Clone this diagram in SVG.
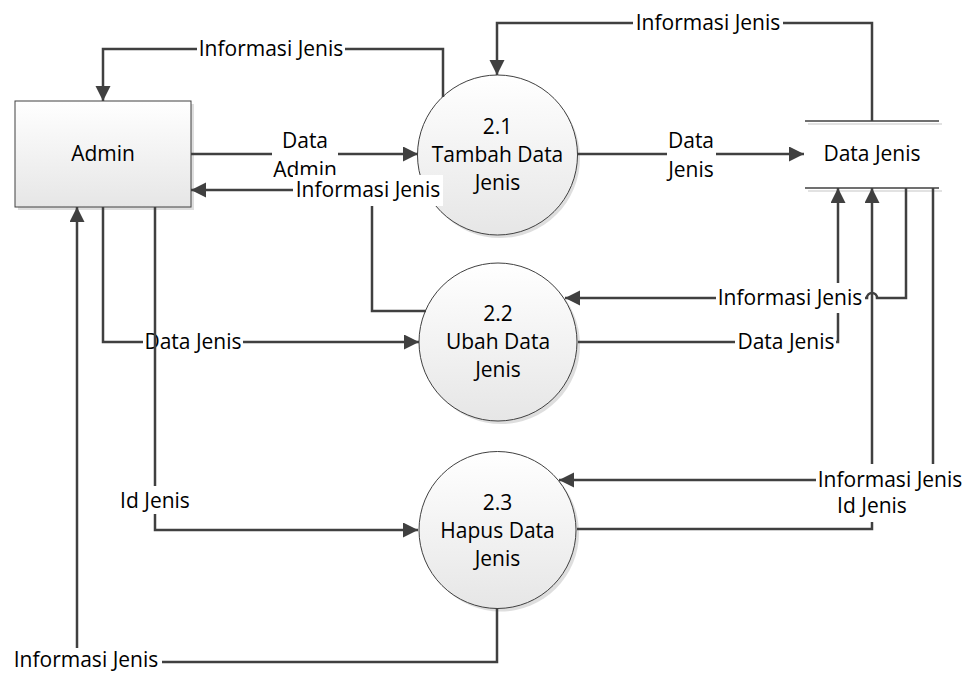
<svg xmlns="http://www.w3.org/2000/svg" width="969" height="673" viewBox="0 0 969 673">
<defs>
<linearGradient id="fillg" x1="0" y1="0" x2="0" y2="1">
<stop offset="0" stop-color="#ffffff"/>
<stop offset="1" stop-color="#e6e6e6"/>
</linearGradient>
<marker id="ah" markerUnits="userSpaceOnUse" markerWidth="16" markerHeight="16" refX="15" refY="7.5" orient="auto">
<path d="M0,0 L15,7.5 L0,15 z" fill="#404040"/>
</marker>
<style>
.t{font-family:"Open Sans","Liberation Sans",sans-serif;font-size:21px;fill:#000;text-anchor:middle}
.c{fill:none;stroke:#404040;stroke-width:2.5;marker-end:url(#ah)}
.bg{fill:#fff}
.shape{fill:url(#fillg);stroke:#404040;stroke-width:1}
.sh{fill:#c8c8c8;opacity:0.6}
.st{stroke:#404040;stroke-width:1.5}
.sts{stroke:#d8d8d8;stroke-width:1.5}
</style>
</defs>
<rect width="969" height="673" fill="#fff"/>

<g id="admin">
<rect class="sh" x="18" y="104" width="176" height="106"/>
<rect class="shape" x="15" y="101" width="176" height="106"/>
<text class="t" x="103" y="161">Admin</text>
</g>

<g id="p21">
<circle class="sh" cx="500" cy="158" r="80"/>
<circle class="shape" cx="497.5" cy="155" r="80"/>
<text class="t" x="497.5" y="134">2.1</text>
<text class="t" x="497.5" y="162">Tambah Data</text>
<text class="t" x="497.5" y="190">Jenis</text>
</g>

<g id="p22">
<circle class="sh" cx="501" cy="345" r="79"/>
<circle class="shape" cx="498" cy="342" r="79"/>
<text class="t" x="498" y="321">2.2</text>
<text class="t" x="498" y="349">Ubah Data</text>
<text class="t" x="498" y="377">Jenis</text>
</g>

<g id="p23">
<circle class="sh" cx="500.5" cy="533" r="78.5"/>
<circle class="shape" cx="497.5" cy="530" r="78.5"/>
<text class="t" x="497.5" y="510">2.3</text>
<text class="t" x="497.5" y="538">Hapus Data</text>
<text class="t" x="497.5" y="566">Jenis</text>
</g>

<g id="store">
<line class="sts" x1="808" y1="124" x2="942" y2="124"/>
<line class="sts" x1="808" y1="191" x2="942" y2="191"/>
<line class="st" x1="805" y1="121" x2="939" y2="121"/>
<line class="st" x1="805" y1="188" x2="939" y2="188"/>
<text class="t" x="872" y="161">Data Jenis</text>
</g>

<g id="connectors">
<g id="c1">
<path class="c" d="M443,97 V49 H103 V101"/>
<rect class="bg" x="197" y="35" width="148" height="28"/>
<text class="t" x="271" y="56">Informasi Jenis</text>
</g>
<g id="c2">
<path class="c" d="M191,154 H418"/>
<rect class="bg" x="272" y="128" width="66" height="46"/>
<text class="t" x="305" y="148">Data</text>
<text class="t" x="305" y="177">Admin</text>
</g>
<g id="c3">
<path class="c" d="M426,311 H372 V190 H191"/>
<rect class="bg" x="293" y="175" width="150" height="31"/>
<text class="t" x="368" y="197">Informasi Jenis</text>
</g>
<g id="c4">
<path class="c" d="M103,207 V342 H419"/>
<rect class="bg" x="143" y="328" width="100" height="28"/>
<text class="t" x="193" y="349">Data Jenis</text>
</g>
<g id="c5">
<path class="c" d="M155,207 V530 H418"/>
<rect class="bg" x="117" y="486" width="77" height="28"/>
<text class="t" x="155" y="508">Id Jenis</text>
</g>
<g id="c6">
<path class="c" d="M497,608 V662 H77 V207"/>
<rect class="bg" x="11" y="648" width="151" height="24"/>
<text class="t" x="86" y="667">Informasi Jenis</text>
</g>
<g id="c7">
<path class="c" d="M872,121 V23 H497 V75"/>
<rect class="bg" x="633" y="9" width="150" height="28"/>
<text class="t" x="708" y="30">Informasi Jenis</text>
</g>
<g id="c8">
<path class="c" d="M577,154 H804"/>
<rect class="bg" x="667" y="128" width="49" height="52"/>
<text class="t" x="691" y="148">Data</text>
<text class="t" x="691" y="177">Jenis</text>
</g>
<g id="c10">
<path class="c" d="M578,342 H838 V188"/>
<rect class="bg" x="735" y="328" width="101" height="28"/>
<text class="t" x="786" y="349">Data Jenis</text>
</g>
<g id="c9">
<path class="c" d="M906,188 V298 H877 A5,5 0 0 0 867,298 H565"/>
<rect class="bg" x="716" y="283" width="149" height="30"/>
<text class="t" x="790" y="305">Informasi Jenis</text>
</g>
<g id="c11">
<path class="c" d="M577,529 H872 V188"/>
<rect class="bg" x="834" y="490" width="76" height="32"/>
<text class="t" x="872" y="513">Id Jenis</text>
</g>
<g id="c12">
<path class="c" d="M933,188 V480 H559"/>
<rect class="bg" x="816" y="464" width="150" height="30"/>
<text class="t" x="890" y="487">Informasi Jenis</text>
</g>
</g>
</svg>
